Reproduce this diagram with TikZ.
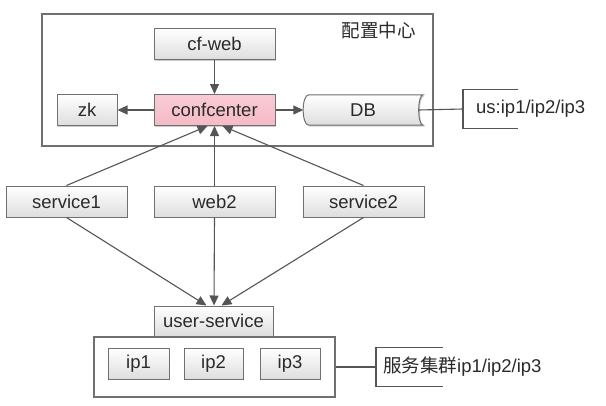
\documentclass[tikz,border=0pt]{standalone}
\usepackage{fontspec}
\setmainfont{Liberation Sans}
\newfontfamily\cjk{Noto Sans CJK SC}
\usetikzlibrary{arrows.meta,shadows,calc}
\definecolor{linec}{HTML}{555555}
\definecolor{boxline}{HTML}{707070}
\definecolor{pinkfill}{HTML}{F6BAC6}
\definecolor{txt}{HTML}{2A2A2A}
\tikzset{
  lbl/.style={text=txt, font=\fontsize{18.5}{22}\selectfont, inner sep=0pt},
  box/.style={lbl, draw=boxline, line width=1pt, top color=white, bottom color=black!13,
    minimum width=121pt, minimum height=31pt,
    drop shadow={shadow xshift=1.3pt, shadow yshift=-1.3pt, fill=black!40, opacity=0.5}},
  frame/.style={draw=boxline, line width=1.3pt, fill=white, inner sep=0pt},
  conn/.style={draw=linec, line width=1.1pt},
  arr/.style={conn, -{Triangle[length=10pt,width=9pt]}},
}
\begin{document}
\begin{tikzpicture}[x=1pt,y=-1pt]
\useasboundingbox[fill=white] (0,0) rectangle (606,405);
% config center container
\node[frame, minimum width=391pt, minimum height=132pt] (cfg) at (237.5,80) {};
\node[lbl] (cfglabel) at (378.5,30) {\cjk 配置中心};
% inner nodes
\node[box] (cfweb) at (214.5,44) {cf-web};
\node[box, top color=pinkfill!75, bottom color=pinkfill] (conf) at (214.5,110) {confcenter};
\node[box, minimum width=60pt] (zk) at (87,110) {zk};
\node[lbl, minimum width=120pt, minimum height=30pt] (db) at (363,110) {};
\draw[draw=boxline, line width=1pt, top color=white, bottom color=black!13,
  drop shadow={shadow xshift=1.3pt, shadow yshift=-1.3pt, fill=black!40, opacity=0.5}]
  ([xshift=6pt]db.north west) -- (db.north east)
  .. controls ([xshift=-6pt]db.north east) and ([xshift=-6pt]db.south east) .. (db.south east)
  -- ([xshift=6pt]db.south west)
  .. controls ([xshift=-1.5pt]db.south west) and ([xshift=-1.5pt]db.north west) .. cycle;
\node[lbl] (dbtext) at (db.center) {DB};
% us bracket
\node[lbl, anchor=west, minimum height=38pt, inner xsep=13pt] (us) at (463,109) {us:ip1/ip2/ip3};
\draw[conn] ([xshift=55pt]us.north west) -- (us.north west) -- (us.south west) -- ([xshift=55pt]us.south west);
\draw[conn] ([xshift=-4.5pt]db.east) -- (us.west);
% arrows inside
\draw[arr] (cfweb.south) -- (conf.north);
\draw[arr] (conf.west) -- (zk.east);
\draw[arr] (conf.east) -- ([xshift=0.5pt]db.west);
% middle row
\node[box] (s1) at (66.5,201.5) {service1};
\node[box] (web2) at (214.5,201.5) {web2};
\node[box] (s2) at (363.5,201.5) {service2};
% cluster
\node[frame, minimum width=241pt, minimum height=60pt] (cluster) at (214.5,367) {};
\node[box, minimum width=119pt, minimum height=30pt] (us2) at (213.5,321) {user-service};
\node[box, minimum width=61pt] (ip1) at (138.5,363.5) {ip1};
\node[box, minimum width=59pt] (ip2) at (213.5,363.5) {ip2};
\node[box, minimum width=60pt] (ip3) at (290,363.5) {ip3};
\node[lbl, anchor=west, minimum height=38pt, inner xsep=7pt] (grp) at (376,367) {{\cjk 服务集群}ip1/ip2/ip3};
\draw[conn] ([xshift=67pt]grp.north west) -- (grp.north west) -- (grp.south west) -- ([xshift=67pt]grp.south west);
\draw[conn] (cluster.east) -- (grp.west);
% arrows up to confcenter
\draw[arr] (s1.north) -- ([xshift=-7pt]conf.south);
\draw[arr] (web2.north) -- (conf.south);
\draw[arr] (s2.north) -- ([xshift=8pt]conf.south);
% arrows down to user-service
\draw[arr] (s1.south) -- ([xshift=-7pt]us2.north);
\draw[arr] (web2.south) -- ([xshift=0.5pt]us2.north);
\draw[arr] (s2.south) -- ([xshift=8pt]us2.north);
\end{tikzpicture}
\end{document}
